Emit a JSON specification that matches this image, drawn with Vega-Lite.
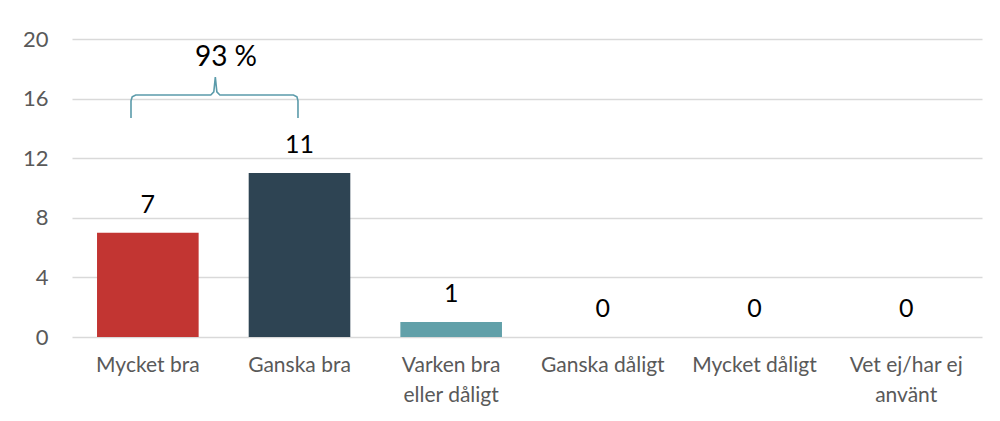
{
  "$schema": "https://vega.github.io/schema/vega-lite/v6.json",
  "width": 910,
  "height": 298,
  "autosize": {"type": "none"},
  "padding": {"left": 72, "top": 39, "right": 18, "bottom": 84},
  "background": "white",
  "config": {
    "view": {"stroke": null},
    "font": "Lato"
  },
  "datasets": {
    "bars": [
      {"kategori": "Mycket bra", "antal": 7},
      {"kategori": "Ganska bra", "antal": 11},
      {"kategori": "Varken bra eller dåligt", "antal": 1},
      {"kategori": "Ganska dåligt", "antal": 0},
      {"kategori": "Mycket dåligt", "antal": 0},
      {"kategori": "Vet ej/har ej använt", "antal": 0}
    ],
    "brace": [
      {"i": 0, "x": 0.389, "y": 14.7},
      {"i": 1, "x": 0.389, "y": 15.85},
      {"i": 2, "x": 0.397, "y": 16.12},
      {"i": 3, "x": 0.42, "y": 16.24},
      {"i": 4, "x": 0.915, "y": 16.24},
      {"i": 5, "x": 0.935, "y": 16.45},
      {"i": 6, "x": 0.945, "y": 17.45},
      {"i": 7, "x": 0.955, "y": 16.45},
      {"i": 8, "x": 0.975, "y": 16.24},
      {"i": 9, "x": 1.46, "y": 16.24},
      {"i": 10, "x": 1.483, "y": 16.12},
      {"i": 11, "x": 1.49, "y": 15.85},
      {"i": 12, "x": 1.49, "y": 14.7}
    ],
    "note": [
      {"x": 1.015, "y": 18.7, "text": "93 %"}
    ]
  },
  "layer": [
    {
      "data": {"name": "bars"},
      "layer": [
        {
          "mark": {"type": "bar"},
          "encoding": {
            "x": {
              "field": "kategori",
              "type": "nominal",
              "sort": null,
              "scale": {"paddingInner": 0.33, "paddingOuter": 0.165},
              "axis": {
                "title": null,
                "domain": false,
                "ticks": false,
                "labelAngle": 0,
                "labelFontSize": 21,
                "labelColor": "#595959",
                "labelPadding": 17,
                "labelBaseline": "top",
                "labelLineHeight": 30,
                "labelFont": "Lato",
                "labelExpr": "datum.label == 'Varken bra eller dåligt' ? ['Varken bra', 'eller dåligt'] : datum.label == 'Vet ej/har ej använt' ? ['Vet ej/har ej', 'använt'] : datum.label"
              }
            },
            "y": {
              "field": "antal",
              "type": "quantitative",
              "scale": {"domain": [0, 20]},
              "axis": {
                "title": null,
                "values": [0, 4, 8, 12, 16, 20],
                "domain": false,
                "ticks": false,
                "gridColor": "#d9d9d9",
                "gridWidth": 1.3,
                "labelFontSize": 22,
                "labelColor": "#595959",
                "labelPadding": 24,
                "labelFont": "Lato"
              }
            },
            "color": {
              "field": "kategori",
              "type": "nominal",
              "sort": null,
              "scale": {
                "domain": ["Mycket bra", "Ganska bra", "Varken bra eller dåligt", "Ganska dåligt", "Mycket dåligt", "Vet ej/har ej använt"],
                "range": ["#C23532", "#2E4453", "#61A0A9", "#D48265", "#91C7AE", "#749F83"]
              },
              "legend": null
            }
          }
        },
        {
          "mark": {"type": "text", "baseline": "middle", "dy": -28, "fontSize": 25, "color": "#000000", "font": "Lato"},
          "encoding": {
            "x": {"field": "kategori", "type": "nominal", "sort": null},
            "y": {"field": "antal", "type": "quantitative", "axis": {"title": null}},
            "text": {"field": "antal", "type": "quantitative"}
          }
        }
      ]
    },
    {
      "layer": [
        {
          "data": {"name": "brace"},
          "mark": {"type": "line", "color": "#5B9BAA", "strokeWidth": 1.6, "interpolate": "linear"},
          "encoding": {
            "x": {"field": "x", "type": "quantitative", "scale": {"domain": [0, 6]}, "axis": null},
            "y": {"field": "y", "type": "quantitative", "axis": {"title": null}},
            "order": {"field": "i", "type": "quantitative"}
          }
        },
        {
          "data": {"name": "note"},
          "mark": {"type": "text", "baseline": "middle", "fontSize": 28, "color": "#000000", "font": "Lato"},
          "encoding": {
            "x": {"field": "x", "type": "quantitative", "scale": {"domain": [0, 6]}, "axis": null},
            "y": {"field": "y", "type": "quantitative", "axis": {"title": null}},
            "text": {"field": "text", "type": "nominal"}
          }
        }
      ]
    }
  ],
  "resolve": {"scale": {"x": "independent"}}
}
